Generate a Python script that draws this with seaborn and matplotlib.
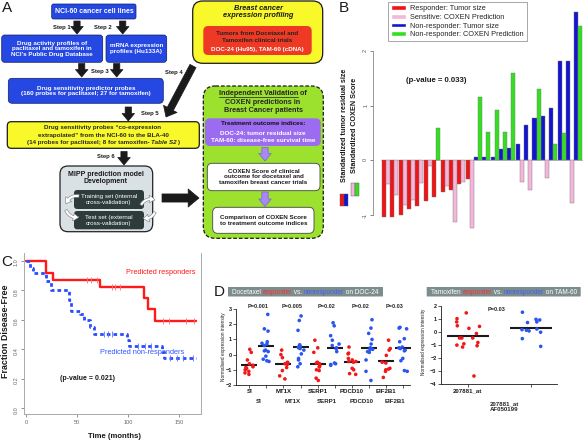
import numpy as np
import pandas as pd
import seaborn as sns
import matplotlib.pyplot as plt
from matplotlib.patches import FancyBboxPatch, Rectangle, Patch

sns.set_theme(style='white')
plt.rcParams['font.family'] = ['Liberation Sans', 'DejaVu Sans']

# ---------------- data ----------------
# panel B: standardized tumour residual size and COXEN score, one pair per patient
tumor_size = [-1.04, -1.04, -1.01, -0.89, -0.84, -0.75, -0.67, -0.58, -0.55, -0.43, -0.35,
              0.05, 0.05, 0.05, 0.20, 0.23, 0.29, 0.65, 0.78, 0.81, 0.95, 1.82, 1.82, 2.71]
coxen_score = [-0.43, -0.65, -0.83, -0.73, -0.42, -0.11, 0.58, -0.48, -1.14, -0.40, -1.25,
               1.16, 0.51, 0.91, 0.51, 1.60, -0.40, -0.54, 1.30, -0.32, 0.29, 0.50, -0.78, 2.45]
n_responders = 11

# panel C: Kaplan-Meier steps (time in months, fraction disease-free)
resp_t = [0, 20, 26, 73, 116, 120, 126.5, 167]
resp_s = [1.0, 0.914, 0.87, 0.824, 0.748, 0.673, 0.588, 0.588]
resp_cens_t = [59.5, 63.4, 69.3, 84, 87, 92, 134.6, 140, 157, 165]
resp_cens_s = [0.87, 0.87, 0.87, 0.824, 0.824, 0.824, 0.588, 0.588, 0.588, 0.588]
nonresp_t = [0, 4, 7, 20, 24, 42, 44, 53, 57, 63, 67, 99, 101, 133, 135, 167]
nonresp_s = [1.0, 0.95, 0.914, 0.86, 0.80, 0.73, 0.66, 0.64, 0.60, 0.55, 0.50, 0.46, 0.42,
             0.38, 0.337, 0.337]
nonresp_cens_t = [76, 80, 84, 110, 117, 123, 141, 148, 154, 164]
nonresp_cens_s = [0.50, 0.50, 0.50, 0.42, 0.42, 0.42, 0.337, 0.337, 0.337, 0.337]

# panel D: normalised expression, DOC-24
genes = ['SI', 'MT1X', 'SERP1', 'PDCD10', 'EIF2B1']
si_r = [0.35, 0.15, -0.35, -0.6, -0.7, -0.8, -0.85, -0.9, -1.0, -1.1, -1.2, -1.3]
si_n = [2.65, 1.7, 1.55, 0.85, 0.75, 0.7, 0.6, 0.3, 0.25, 0.2, -0.1, -0.3, -0.4, -0.45]
mt1x_r = [0.3, 0.0, -0.2, -0.5, -0.55, -0.6, -0.65, -0.85, -1.05, -1.4, -1.6]
mt1x_n = [2.55, 2.25, 1.6, 0.65, 0.55, 0.5, 0.45, 0.4, 0.3, 0.05, -0.25, -0.35, -0.6, -0.8]
serp1_r = [0.95, 0.45, 0.15, -0.5, -0.55, -0.6, -0.7, -0.8, -0.8, -1.0, -1.05, -1.55, -1.7]
serp1_n = [2.1, 1.9, 1.25, 0.95, 0.7, 0.6, 0.45, 0.4, 0.2, -0.55, -0.6, -0.65, -0.7]
pdcd10_r = [0.5, 0.1, 0.05, -0.25, -0.35, -0.45, -0.45, -0.5, -0.9, -1.0, -1.25, -1.3]
pdcd10_n = [2.3, 1.75, 1.4, 1.0, 0.7, 0.45, 0.35, 0.35, 0.2, 0.15, -0.35, -1.1, -1.7]
eif2b1_r = [0.95, 0.4, 0.3, -0.05, -0.5, -0.55, -0.9, -0.95, -1.0, -1.1, -1.5]
eif2b1_n = [1.8, 1.75, 1.7, 1.05, 0.85, 0.5, 0.45, 0.4, 0.3, 0.25, -0.25, -0.4, -1.05, -1.1]
doc_pvals = ['P=0.001', 'P=0.005', 'P=0.02', 'P=0.02', 'P=0.03']

# panel D: TAM-60, probe 207881_at
tam_r = [1.5, 1.05, 0.8, 0.5, 0.45, 0.3, -0.1, -0.45, -0.45, -0.45, -0.8, -0.9, -1.0, -1.05, -1.15, -3.4]
tam_n = [1.55, 1.0, 0.95, 0.8, 0.75, 0.25, 0.2, 0.15, 0.1, 0.0, -0.5, -1.1]
tam_pval = 'P=0.03'

RED, PINK, BLUE, GREEN = '#f01414', '#f4b6da', '#1414d0', '#33e01f'

W, H = 583, 440
fig = plt.figure(figsize=(W / 100, H / 100), dpi=100)


def px_axes(x0, y0, x1, y1):
    return fig.add_axes([x0 / W, 1 - y1 / H, (x1 - x0) / W, (y1 - y0) / H])


# overlay in pixel coordinates for the flow chart and free text
ov = fig.add_axes([0, 0, 1, 1], zorder=5)
ov.set_xlim(0, W)
ov.set_ylim(H, 0)
ov.axis('off')
rend = fig.canvas.get_renderer()


def box(x0, y0, x1, y1, fc, ec='none', lw=0.8, ls='-', r=4):
    ov.add_patch(FancyBboxPatch((x0, y0), x1 - x0, y1 - y0,
                                boxstyle=f'round,pad=0,rounding_size={r}',
                                fc=fc, ec=ec, lw=lw, ls=ls))


def txt(x, y, s, size=4.6, color='k', weight='bold', ha='center', **kw):
    return ov.text(x, y, s, fontsize=size, color=color, fontweight=weight,
                   ha=ha, va='center', linespacing=1.15, **kw)


def chain(xc, y, parts, size=4.6, weight='bold'):
    # pieces of one line in different colours / styles, centred on xc
    arts = []
    for s, kw in parts:
        t = ov.text(0, y, s, fontsize=size, fontweight=weight, ha='left', va='baseline', **kw)
        arts.append((t, t.get_window_extent(rend).width))
    x = xc - sum(w for _, w in arts) / 2
    spans = []
    for t, w in arts:
        t.set_x(x)
        spans.append((x, x + w))
        x += w
    return spans


def down_arrow(x, y0, y1, fc='k', ec='k', scale=9):
    ov.annotate('', xy=(x, y1), xytext=(x, y0),
                arrowprops=dict(arrowstyle='simple,head_length=0.6,head_width=1.0,tail_width=0.5',
                                fc=fc, ec=ec, lw=0.5, mutation_scale=scale, shrinkA=0, shrinkB=0))


# ---------------- panel A ----------------
ABLUE = '#2547e2'
txt(7, 8, 'A', size=11, weight='normal')
box(51.7, 4, 136, 19, ABLUE, ec='#10206a', lw=0.5, r=2)
txt(94, 11.7, 'NCI-60 cancer cell lines', size=5, color='white')
txt(62, 27.5, 'Step 1', size=4.2)
txt(103, 27.5, 'Step 2', size=4.2)
down_arrow(77, 21, 34)
down_arrow(122.7, 21, 34)
box(1.7, 35, 102.7, 62.3, ABLUE, ec='#10206a', lw=0.5, r=3)
txt(52, 48.7, "Drug activity profiles of\npaclitaxel and tamoxifen in\nNCI's Public Drug Database",
    size=4.5, color='white')
box(106, 35, 166.7, 62.3, ABLUE, ec='#10206a', lw=0.5, r=3)
txt(110, 48.7, 'mRNA expression\nprofiles (Hu133A)', size=4.5, color='white', ha='left')
down_arrow(81.7, 63.5, 77)
down_arrow(116.7, 63.5, 77)
txt(100, 71, 'Step 3', size=4.2)
box(8.3, 78.3, 163.3, 103.3, ABLUE, ec='#10206a', lw=0.5, r=4)
txt(86, 91, 'Drug sensitivity predictor probes\n(160 probes for paclitaxel; 27 for tamoxifen)',
    size=4.5, color='white')
txt(174, 72.3, 'Step 4', size=4.2)
ov.annotate('', xy=(166, 117), xytext=(193, 66),
            arrowprops=dict(arrowstyle='simple,head_length=0.6,head_width=1.0,tail_width=0.45',
                            fc='k', ec='k', lw=0.5, mutation_scale=11, shrinkA=0, shrinkB=0))
txt(150, 113.3, 'Step 5', size=4.2)
down_arrow(128.3, 107, 121)
box(7.3, 121.7, 199.3, 148.3, '#f8f82a', ec='k', lw=0.9, r=4)
chain(103, 129.4, [('Drug sensitivity probes \u201cco-expression', {})], size=4.5)
chain(103, 136.8, [('extrapolated\u201d from the NCI-60 to the BLA-40', {})], size=4.5)
chain(103, 144.2, [('(14 probes for paclitaxel; 8 for tamoxifen- ', {}),
                   ('Table S2', {'style': 'italic'}), (')', {})], size=4.5)
txt(106, 156.7, 'Step 6', size=4.2)
down_arrow(124, 151.5, 165)
box(60, 166, 152.7, 231.7, '#d9e1e4', ec='#222222', lw=0.9, r=8)
txt(106, 178, 'MIPP prediction model\nDevelopment', size=5)
box(74, 190, 144, 209, '#2e3b3b', r=3)
txt(109, 199.5, 'Training set (internal\ncross-validation)', size=4.5, color='white', weight='normal')
box(74, 211, 144, 229.3, '#2e3b3b', r=3)
txt(109, 220.2, 'Test set (external\ncross-validation)', size=4.5, color='white', weight='normal')
for (xa, ya, xb, yb, rad) in [(79, 196, 66, 204, 0.4), (66, 210, 79, 217, 0.4),
                              (141, 205, 155, 200, -0.4), (155, 212, 143, 218, -0.4)]:
    ov.annotate('', xy=(xb, yb), xytext=(xa, ya),
                arrowprops=dict(arrowstyle='simple,head_length=0.5,head_width=0.7,tail_width=0.25',
                                connectionstyle=f'arc3,rad={rad}', fc='white', ec='#777777',
                                lw=0.4, mutation_scale=8, shrinkA=0, shrinkB=0))
ov.annotate('', xy=(199, 198), xytext=(162, 198),
            arrowprops=dict(arrowstyle='simple,head_length=0.6,head_width=1.0,tail_width=0.45',
                            fc='k', ec='k', lw=0.5, mutation_scale=13, shrinkA=0, shrinkB=0))

box(192.7, 1, 322.7, 63.3, '#f8f82a', ec='k', lw=0.9, r=10)
txt(258, 12, 'Breast cancer\nexpression profiling', size=5.3, style='italic')
box(203.3, 26, 311.7, 55, '#ee3a24', r=5)
txt(257.5, 33.3, 'Tumors from Docetaxel and', size=4.5, color='#222222')
txt(257.5, 41, 'Tamoxifen clinical trials', size=4.5, color='#222222')
txt(257.5, 49, 'DOC-24 (Hu95), TAM-60 (cDNA)', size=4.5, color='white')

box(203.3, 86, 323.3, 238.3, '#9be12e', ec='k', lw=0.9, ls=(0, (3, 1.5)), r=12)
sp = chain(263, 95.3, [('Independent Validation', {}), (' of', {})], size=5.2)
ov.plot([sp[0][0], sp[0][1]], [96.6, 96.6], color='k', lw=0.5)
chain(263, 103.7, [('COXEN predictions in', {})], size=5.2)
chain(263, 112, [('Breast Cancer patients', {})], size=5.2)
box(205, 118.3, 320.7, 146, '#9b6cf0', r=5)
txt(263, 123.7, 'Treatment outcome indices:', size=4.6, color='#111111')
txt(263, 133.2, 'DOC-24: tumor residual size', size=4.6, color='white')
txt(263, 140.6, 'TAM-60: disease-free survival time', size=4.6, color='white')
down_arrow(265, 147.5, 161, fc='#a888f2', ec='#8060d8')
box(207.3, 163.3, 320, 190.7, 'white', ec='#444444', lw=0.6, r=5)
txt(263.5, 177, 'COXEN Score of clinical\noutcome for docetaxel and\ntamoxifen breast cancer trials',
    size=4.5)
down_arrow(265, 192, 206.5, fc='#a888f2', ec='#8060d8')
box(212.7, 207.3, 314, 233.3, 'white', ec='#444444', lw=0.6, r=5)
txt(263.3, 220.3, 'Comparison of COXEN Score\nto treatment outcome indices', size=4.5)

# ---------------- panel B ----------------
axb = px_axes(373, 0, 583, 280)
dfb = pd.DataFrame({'patient': np.tile(np.arange(len(tumor_size)), 2),
                    'kind': ['Tumor size'] * len(tumor_size) + ['COXEN'] * len(coxen_score),
                    'value': tumor_size + coxen_score})
sns.barplot(data=dfb, x='patient', y='value', hue='kind', hue_order=['Tumor size', 'COXEN'],
            dodge=True, width=0.96, errorbar=None, legend=False, saturation=1,
            edgecolor='#777777', linewidth=0.3, ax=axb)
for p in axb.patches:
    c = p.get_x() + p.get_width() / 2
    i = int(round(c))
    if c < i:
        p.set_facecolor(RED if i < n_responders else BLUE)
    else:
        p.set_facecolor(GREEN if p.get_height() > 0 else PINK)
axb.axhline(0, xmin=0.04, color='#888888', lw=0.4, zorder=0)
axb.set_xlim(-1.555, 23.56)
axb.set_ylim(-2.2, 2.936)
axb.set_xticks([])
axb.set_yticks([-1, 0, 1, 2])
axb.set_yticklabels(['-1', '0', '1', '2'])
axb.tick_params(axis='y', left=True, length=2.5, width=0.5, pad=1, labelsize=4,
                labelrotation=90, colors='#555555')
axb.set_xlabel('')
axb.set_ylabel('')
sns.despine(ax=axb, top=True, right=True, bottom=True)
axb.spines['left'].set_bounds(-1, 2)
axb.spines['left'].set_color('#888888')
axb.spines['left'].set_linewidth(0.6)
axb.patch.set_alpha(0)

leg = fig.legend(handles=[Patch(fc=RED, label='Responder: Tumor size'),
                          Patch(fc=PINK, label='Sensitive: COXEN Prediction'),
                          Patch(fc=BLUE, label='Non-responder: Tumor size'),
                          Patch(fc=GREEN, label='Non-responder: COXEN Prediction')],
                 loc='upper left', bbox_to_anchor=(388 / W, 1 - 2 / H), fontsize=5.3,
                 frameon=True, fancybox=False, edgecolor='#999999', framealpha=1,
                 handlelength=2.0, handleheight=0.55, handletextpad=0.6, borderpad=0.45,
                 labelspacing=0.22, borderaxespad=0)
leg.get_frame().set_linewidth(0.6)

txt(339, 8, 'B', size=11, weight='normal', ha='left')
txt(344.3, 125.5, 'Standardized tumor residual size', size=5.2, rotation=90)
txt(355, 125, 'Standardized COXEN Score', size=5.2, rotation=90)
ov.add_patch(Rectangle((340, 194), 4.2, 12.5, fc=RED, ec='#555555', lw=0.3))
ov.add_patch(Rectangle((344.2, 194), 4.2, 12.5, fc=BLUE, ec='#555555', lw=0.3))
ov.add_patch(Rectangle((350.5, 183), 4.2, 13, fc=PINK, ec='#555555', lw=0.3))
ov.add_patch(Rectangle((354.7, 183), 4.2, 13, fc=GREEN, ec='#555555', lw=0.3))
txt(436.7, 81, '(p-value = 0.033)', size=5.6)

# ---------------- panel C ----------------
axc = px_axes(24, 253, 201, 414)
sns.lineplot(x=resp_t, y=resp_s, drawstyle='steps-post', estimator=None, sort=False,
             color='#ff1a1a', lw=1.7, ax=axc)
sns.lineplot(x=nonresp_t, y=nonresp_s, drawstyle='steps-post', estimator=None, sort=False,
             color='#2a4cff', lw=2.0, linestyle=(0, (1.3, 1.1)), ax=axc)
sns.scatterplot(x=resp_cens_t, y=resp_cens_s, marker='|', s=22, color='#ff7070',
                linewidth=0.6, ax=axc, zorder=4)
sns.scatterplot(x=nonresp_cens_t, y=nonresp_cens_s, marker='|', s=22, color='#5a78ff',
                linewidth=0.6, ax=axc, zorder=4)
axc.set_xlim(-2, 171.6)
axc.set_ylim(-0.04, 1.052)
axc.set_xticks([0, 50, 100, 150])
axc.set_yticks([0, 0.2, 0.4, 0.6, 0.8, 1.0])
axc.set_yticklabels(['0.0', '0.2', '0.4', '0.6', '0.8', '1.0'])
axc.tick_params(axis='both', left=True, bottom=True, length=2.5, width=0.5, pad=1.5,
                labelsize=4, colors='#666666')
axc.tick_params(axis='y', labelrotation=90)
for s in ['left', 'right', 'bottom']:
    axc.spines[s].set_color('#aaaaaa')
    axc.spines[s].set_linewidth(0.7)
axc.spines['top'].set_visible(False)
axc.patch.set_alpha(0)
txt(7, 262, 'C', size=11, weight='normal')
txt(6, 331, 'Fraction Disease-Free', size=6.4, rotation=90)
txt(115, 436, 'Time (months)', size=5.6)
txt(161, 272.7, 'Predicted responders', size=5.3, color='#ff1a1a', weight='normal')
txt(142.5, 352, 'Predicted non-responders', size=5.3, color='#3355ff', weight='normal')
txt(87.5, 379, '(p-value = 0.021)', size=5)

# ---------------- panel D ----------------
PT_RED, PT_BLUE = '#f01818', '#2a55ee'
np.random.seed(3)
doc_lists = [(si_r, si_n), (mt1x_r, mt1x_n), (serp1_r, serp1_n), (pdcd10_r, pdcd10_n),
             (eif2b1_r, eif2b1_n)]
rows = []
cols = []
for g, (r, n) in zip(genes, doc_lists):
    cols += [g + ' r', g + ' n']
    rows += [(g + ' r', 'responder', v) for v in r]
    rows += [(g + ' n', 'nonresponder', v) for v in n]
dfd = pd.DataFrame(rows, columns=['col', 'group', 'value'])

axd = px_axes(236, 300, 410, 385.3)
sns.stripplot(data=dfd, x='col', y='value', hue='group', order=cols,
              palette={'responder': PT_RED, 'nonresponder': PT_BLUE}, jitter=0.27, size=2.6,
              linewidth=0, legend=False, ax=axd)
sns.pointplot(data=dfd, x='col', y='value', order=cols, estimator='mean', errorbar=None,
              color='k', marker='_', linestyle='none', markersize=11, markeredgewidth=1.5,
              ax=axd)

tam_df = pd.DataFrame({'col': ['r'] * len(tam_r) + ['n'] * len(tam_n),
                       'group': ['responder'] * len(tam_r) + ['nonresponder'] * len(tam_n),
                       'value': tam_r + tam_n})
axe = px_axes(440.7, 300, 557, 384)
sns.stripplot(data=tam_df, x='col', y='value', hue='group', order=['r', 'n'],
              palette={'responder': PT_RED, 'nonresponder': PT_BLUE}, jitter=0.2, size=2.6,
              linewidth=0, legend=False, ax=axe)
sns.pointplot(data=tam_df, x='col', y='value', order=['r', 'n'], estimator='mean', errorbar=None,
              color='k', marker='_', linestyle='none', markersize=30, markeredgewidth=1.5,
              ax=axe)

for ax, lo, hi, xl in [(axd, -2, 3, (-0.78, 9.41)), (axe, -4, 2, (-0.43, 1.41))]:
    ax.set_ylim(lo - 0.02, hi + (0.6 if hi == 3 else 0.5))
    ax.set_xlim(*xl)
    ax.set_yticks(range(lo, hi + 1))
    ax.tick_params(axis='both', left=True, bottom=True, length=2, width=0.5, pad=1,
                   labelsize=4, colors='k')
    for lab in ax.get_yticklabels():
        lab.set_fontweight('bold')
    sns.despine(ax=ax)
    ax.spines['left'].set_bounds(lo, hi)
    for s in ['left', 'bottom']:
        ax.spines[s].set_color('k')
        ax.spines[s].set_linewidth(0.6)
    ax.set_xlabel('')
    ax.set_ylabel('')
    ax.patch.set_alpha(0)

axd.set_xticks(range(len(cols)))
axd.set_xticklabels([g if i % 2 == 0 else '' for i, g in enumerate(np.repeat(genes, 2))],
                    fontweight='bold', fontsize=4.4)
for i, g in enumerate(genes):
    axd.text(2 * i + 1 - 0.45, -0.19, g, transform=axd.get_xaxis_transform(), ha='center',
             va='center', fontsize=4.4, fontweight='bold')
    axd.text(2 * i + 0.5, 3.16, doc_pvals[i], ha='center', va='center', fontsize=4,
             fontweight='bold')
axe.set_xticks([0, 1])
axe.set_xticklabels(['207881_at', ''], fontweight='bold', fontsize=4.4)
axe.text(1 - 0.42, -0.27, '207881_at\nAF050199', transform=axe.get_xaxis_transform(),
         ha='center', va='center', fontsize=4.4, fontweight='bold', linespacing=1.3)
axe.text(0.46, 1.78, tam_pval, ha='center', va='center', fontsize=4, fontweight='bold')

txt(219, 291.5, 'D', size=11, weight='normal')
box(228, 287, 383, 296.5, '#7d8d8d', r=0.5)
box(426.7, 287, 580.7, 296.5, '#7d8d8d', r=0.5)
chain(305.5, 293.5, [('Docetaxel ', {'color': 'white'}), ('responder', {'color': '#ff2a2a'}),
                     (' vs. ', {'color': 'white'}), ('nonresponder', {'color': '#3a5cff'}),
                     (' on DOC-24', {'color': 'white'})], size=4.7, weight='normal')
chain(503.7, 293.5, [('Tamoxifen ', {'color': 'white'}), ('responder', {'color': '#ff2a2a'}),
                     (' vs. ', {'color': 'white'}), ('nonresponder', {'color': '#3a5cff'}),
                     (' on TAM-60', {'color': 'white'})], size=4.7, weight='normal')
txt(223.5, 347, 'Normalised expression intensity', size=3.4, weight='normal', rotation=90)
txt(424, 342, 'Normalised expression intensity', size=3.3, weight='normal', rotation=90)

fig.savefig('out.png', dpi=100)
